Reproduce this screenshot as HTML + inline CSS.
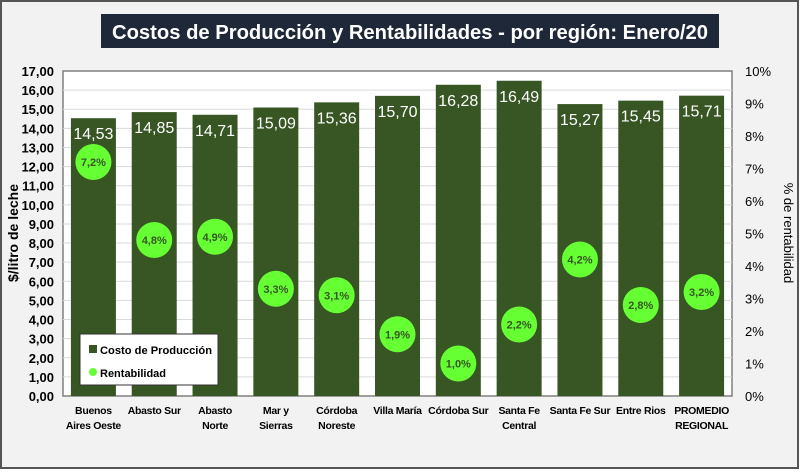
<!DOCTYPE html>
<html><head><meta charset="utf-8"><style>
body{margin:0;width:800px;height:470px;overflow:hidden;background:#fff;font-family:"Liberation Sans",sans-serif}
</style></head><body>
<svg id="chart" width="800" height="470" xmlns="http://www.w3.org/2000/svg">
<rect x="1" y="1" width="797" height="467" fill="#f2f2f2" stroke="#555" stroke-width="2"/>
<rect x="101" y="14" width="618" height="34" fill="#1f2838"/>
<text x="410" y="39" text-anchor="middle" fill="#fff" font-size="20" font-weight="bold" textLength="596" lengthAdjust="spacingAndGlyphs">Costos de Producción y Rentabilidades - por región: Enero/20</text>
<rect x="63" y="71" width="669" height="325" fill="#fff" stroke="#7f7f7f" stroke-width="1.5"/>
<g id="grid"></g><g id="bars"></g><g id="dots"></g><g id="axes"></g>
<text transform="translate(18,233) rotate(-90)" text-anchor="middle" font-size="14" font-weight="bold" fill="#000">$/litro de leche</text>
<text transform="translate(784,233) rotate(90)" text-anchor="middle" font-size="13" fill="#000">% de rentabilidad</text>
<g>
<rect x="80" y="334" width="138" height="51" fill="#fff" stroke="#333" stroke-width="1"/>
<rect x="89" y="345" width="8" height="8" fill="#375623"/>
<text x="100" y="354" font-size="11" font-weight="bold" textLength="112" lengthAdjust="spacingAndGlyphs">Costo de Producción</text>
<circle cx="93" cy="372" r="4" fill="#66ff33"/>
<text x="100" y="377" font-size="11" font-weight="bold">Rentabilidad</text>
</g>
</svg>
<script>
const categories=[["Buenos","Aires Oeste"],["Abasto Sur"],["Abasto","Norte"],["Mar y","Sierras"],["Córdoba","Noreste"],["Villa María"],["Córdoba Sur"],["Santa Fe","Central"],["Santa Fe Sur"],["Entre Rios"],["PROMEDIO","REGIONAL"]];
const costs=[14.53,14.85,14.71,15.09,15.36,15.70,16.28,16.49,15.27,15.45,15.71];
const profit=[7.2,4.8,4.9,3.3,3.1,1.9,1.0,2.2,4.2,2.8,3.2];
const leftTicks=[0,1,2,3,4,5,6,7,8,9,10,11,12,13,14,15,16,17];
const rightTicks=[0,1,2,3,4,5,6,7,8,9,10];
const NS="http://www.w3.org/2000/svg";
const X0=63,W=669,Y0=396,H=325;
const y=v=>Y0-v/17*H, y2=v=>Y0-v/10*H, xc=i=>X0+(i+0.5)*W/categories.length;
const fmt=v=>v.toFixed(2).replace('.',',');
function mk(t,a,p,txt){const e=document.createElementNS(NS,t);for(const k in a)e.setAttribute(k,a[k]);if(txt!=null)e.textContent=txt;document.getElementById(p).appendChild(e);return e;}
leftTicks.forEach(v=>{
 if(v>0&&v<17){const l=mk('line',{x1:X0,x2:X0+W,y1:y(v),y2:y(v),stroke:'#d9d9d9'},'grid');
 
 }
 const t=mk('text',{x:54,y:y(v)+5,'text-anchor':'end','font-size':13,'font-weight':'bold'},'axes',fmt(v));
 
 
});
rightTicks.forEach(v=>{
 const t=mk('text',{x:745,y:y2(v)+5,'font-size':13},'axes',v+'%');
 
 
});
categories.forEach((c,i)=>{
 const b=mk('rect',{x:xc(i)-22.5,y:y(costs[i]),width:45,height:Y0-y(costs[i]),fill:'#375623'},'bars');
 
 
 const bl=mk('text',{x:xc(i),y:y(costs[i])+21,'text-anchor':'middle','font-size':16,fill:'#fff'},'bars',costs[i].toFixed(2).replace('.',','));
 
 
 const d=mk('circle',{cx:xc(i),cy:y2(profit[i]),r:18,fill:'#66ff33'},'dots');
 
 
 const dl=mk('text',{x:xc(i),y:y2(profit[i])+4,'text-anchor':'middle','font-size':11,'font-weight':'bold',fill:'#375623'},'dots',profit[i].toFixed(1).replace('.',',')+'%');
 
 
 c.forEach((s,j)=>{
  const t=mk('text',{x:xc(i),y:414+j*15,'text-anchor':'middle','font-size':10.5,'font-weight':'bold','letter-spacing':'-0.3'},'axes',s);
  
  
 });
});
</script>
</body></html>
